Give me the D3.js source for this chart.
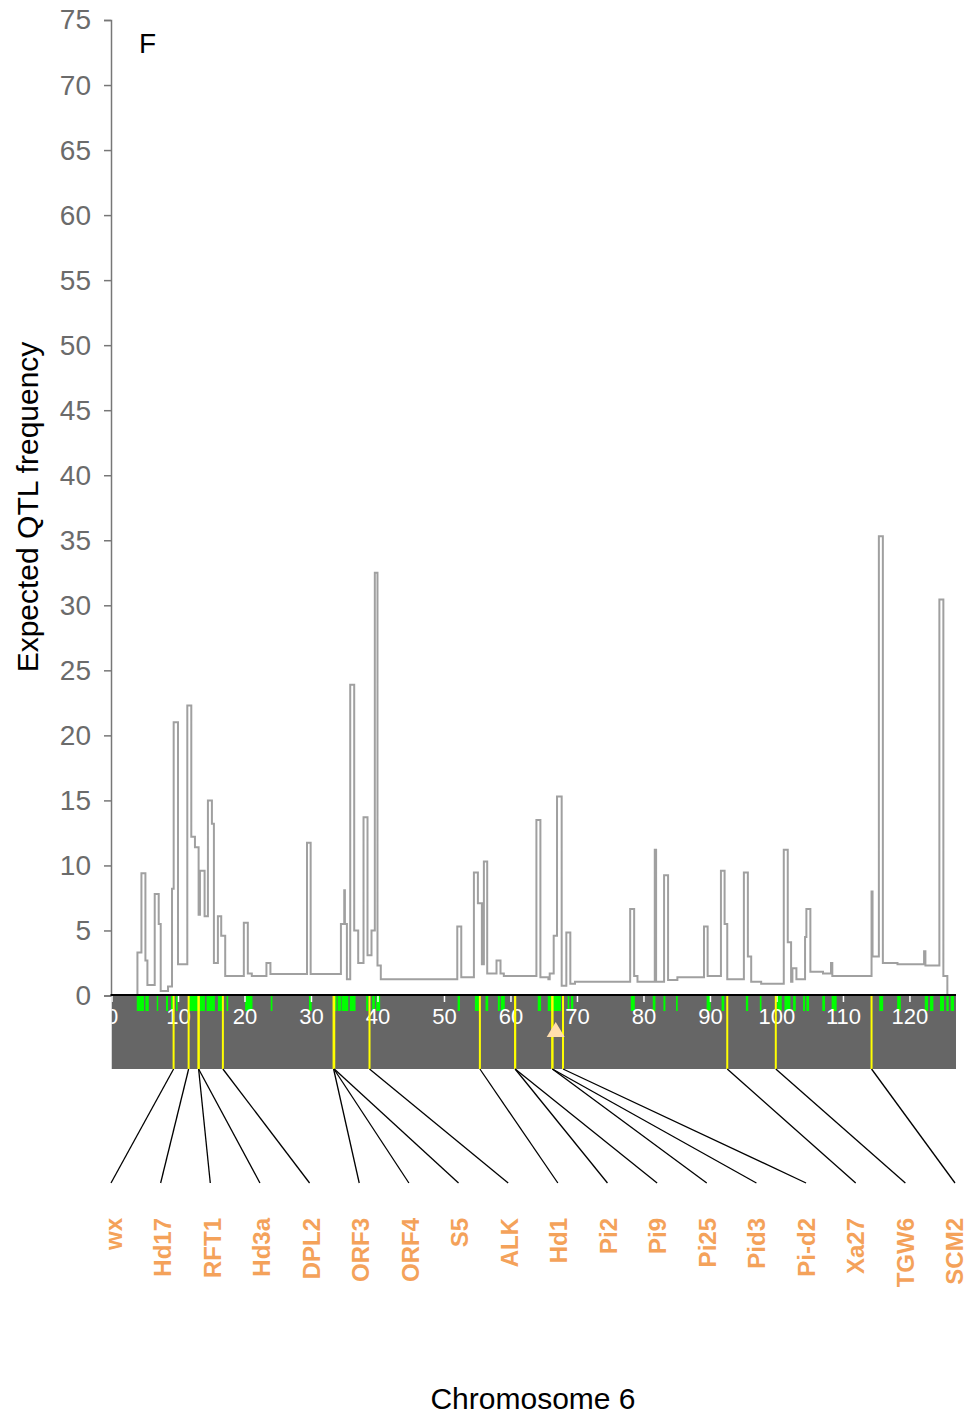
<!DOCTYPE html>
<html>
<head>
<meta charset="utf-8">
<script src="https://cdn.jsdelivr.net/npm/d3@7"></script>
<style>
  body { margin: 0; background: #fff; }
  svg { display: block; font-family: "Liberation Sans", Arial, sans-serif; }
</style>
</head>
<body>
<svg id="chart" width="968" height="1415"></svg>
<script>
// step profile: [cM, expected QTL frequency], drawn as step-after
const qtlPos = [3.9, 3.9, 4.5, 5.1, 5.4, 6.5, 7.1, 7.4, 8.5, 9.1, 9.35, 10.0, 11.4, 12.0, 12.55, 13.1, 13.3, 14.0, 14.5, 15.1, 15.4, 16.0, 16.5, 17.1, 19.9, 20.5, 21.1, 23.3, 23.9, 29.4, 29.95, 34.5, 35.0, 35.1, 35.4, 35.9, 36.5, 37.1, 37.9, 38.5, 39.1, 39.6, 40.0, 40.5, 52.0, 52.6, 54.5, 55.1, 55.7, 56.0, 56.5, 57.9, 58.5, 59.0, 63.9, 64.5, 65.7, 65.9, 66.5, 67.0, 67.7, 68.4, 69.0, 69.7, 78.0, 78.6, 79.1, 81.7, 81.9, 83.1, 83.7, 85.1, 89.1, 89.65, 91.65, 92.2, 92.6, 95.1, 95.7, 96.2, 97.7, 101.1, 101.7, 102.2, 102.4, 103.0, 104.3, 104.5, 105.1, 107.0, 108.2, 108.4, 114.3, 114.45, 115.4, 116.0, 118.2, 122.2, 122.4, 124.5, 125.1, 125.7];
const qtlFreq = [0, 3.3, 9.4, 2.7, 0.8, 7.8, 5.5, 0.35, 0.7, 8.2, 21.0, 2.4, 22.3, 12.2, 11.4, 6.2, 9.6, 6.1, 15.0, 13.2, 2.5, 6.1, 4.6, 1.5, 5.6, 1.7, 1.5, 2.5, 1.65, 11.75, 1.65, 5.5, 8.1, 5.5, 1.25, 23.9, 5.0, 2.5, 13.7, 3.1, 5.0, 32.5, 2.3, 1.25, 5.3, 1.4, 9.45, 7.1, 2.4, 10.3, 1.7, 2.7, 1.7, 1.5, 13.5, 1.4, 1.25, 1.7, 4.6, 15.3, 0.75, 4.85, 0.9, 1.05, 6.65, 1.5, 1.05, 11.2, 1.05, 9.25, 1.2, 1.4, 5.3, 1.5, 9.6, 5.5, 1.25, 9.45, 3.0, 1.05, 0.9, 11.2, 4.1, 1.05, 2.1, 1.25, 4.5, 6.65, 1.83, 1.7, 2.5, 1.5, 8.0, 3.0, 35.3, 2.5, 2.4, 3.4, 2.3, 30.45, 1.5, 0];

// marker intervals on the chromosome (cM)
const markerStart = [3.8, 5.1, 6.8, 8.2, 8.95, 9.7, 11.55, 14.3, 16.0, 17.3, 20.1, 23.95, 29.7, 33.35, 34.0, 34.6, 35.85, 38.3, 39.2, 39.8, 52.05, 54.65, 56.25, 58.1, 58.55, 64.1, 65.6, 66.4, 68.6, 69.1, 78.1, 81.4, 83.0, 84.9, 89.5, 91.75, 95.4, 97.5, 100.1, 101.2, 102.5, 104.0, 104.5, 106.9, 108.3, 115.45, 118.15, 122.3, 123.1, 124.6, 125.55, 126.2];
const markerEnd   = [4.9, 5.6, 7.0, 8.5, 9.3, 9.95, 14.05, 15.55, 16.8, 17.55, 21.2, 24.2, 30.1, 33.85, 34.5, 35.6, 36.7, 38.6, 39.6, 40.4, 52.4, 55.25, 56.65, 58.4, 59.15, 64.6, 66.1, 67.6, 68.85, 69.45, 78.7, 81.8, 83.3, 85.15, 90.1, 92.15, 95.75, 97.75, 100.8, 102.1, 102.9, 104.3, 104.9, 107.3, 109.05, 116.05, 118.7, 122.8, 123.6, 125.2, 125.9, 126.7];

const genes = ['wx', 'Hd17', 'RFT1', 'Hd3a', 'DPL2', 'ORF3', 'ORF4', 'S5', 'ALK', 'Hd1', 'Pi2', 'Pi9', 'Pi25', 'Pid3', 'Pi-d2', 'Xa27', 'TGW6', 'SCM2'];
const genePos = [9.34, 11.6, 13.1, 13.1, 16.75, 33.4, 33.45, 33.5, 38.8, 55.4, 60.7, 60.7, 66.3, 66.3, 67.9, 92.6, 99.9, 114.3];

const chromLength = 127;
const centromere = 66.8;
const yTicks = d3.range(0, 76, 5);
const xTicks = d3.range(0, 121, 10);

const svg = d3.select('#chart');
const barTop = 995, barBottom = 1069, labelLineY = 1183, labelTop = 1218;

const x = d3.scaleLinear().domain([0, chromLength]).range([111.5, 956]);
const y = d3.scaleLinear().domain([0, 75]).range([995.5, 20]);
const lineEndX = d3.scalePoint().domain(genes).range([111, 955]);
const labelX = d3.scalePoint().domain(genes).range([122, 963]);

// y axis
const yAxis = d3.axisLeft(y).tickValues(yTicks).tickSize(7).tickPadding(13);
const gy = svg.append('g').attr('transform', 'translate(111,0)').call(yAxis);
gy.select('.domain').attr('stroke', '#777').attr('stroke-width', 1.5);
gy.selectAll('.tick line').attr('stroke', '#777').attr('stroke-width', 1.5);
gy.selectAll('.tick text').attr('fill', '#6b6b6b').attr('font-size', 28)
  .attr('font-family', '"Liberation Sans", Arial, sans-serif');

svg.append('text')
  .attr('transform', 'translate(38,507) rotate(-90)')
  .attr('text-anchor', 'middle')
  .attr('font-size', 30)
  .text('Expected QTL frequency');

svg.append('text').attr('x', 139).attr('y', 53).attr('font-size', 28).text('F');

// step line
const pts = qtlPos.map((p, i) => [p, qtlFreq[i]]);
svg.append('path')
  .attr('d', d3.line().x(d => x(d[0])).y(d => y(d[1])).curve(d3.curveStepAfter)(pts))
  .attr('fill', 'none')
  .attr('stroke', '#a0a0a0')
  .attr('stroke-width', 2);

// chromosome bar
svg.append('defs').append('clipPath').attr('id', 'barclip')
  .append('rect')
  .attr('x', x(0)).attr('y', barTop)
  .attr('width', x(chromLength) - x(0)).attr('height', barBottom - barTop);

const bar = svg.append('g').attr('clip-path', 'url(#barclip)');
bar.append('rect')
  .attr('x', x(0)).attr('y', barTop)
  .attr('width', x(chromLength) - x(0)).attr('height', barBottom - barTop)
  .attr('fill', '#666666');

bar.selectAll('rect.marker')
  .data(markerStart)
  .enter()
  .append('rect')
  .attr('class', 'marker')
  .attr('x', d => x(d))
  .attr('y', barTop + 1)
  .attr('width', (d, i) => Math.max(1.5, x(markerEnd[i]) - x(d)))
  .attr('height', 15)
  .attr('fill', '#00ff00');

const xAxis = d3.axisBottom(x).tickValues(xTicks).tickSize(7).tickPadding(6);
const gx = bar.append('g').attr('transform', 'translate(0,' + barTop + ')').call(xAxis);
gx.select('.domain').remove();
gx.selectAll('.tick line').attr('stroke', '#fff').attr('stroke-width', 1.5);
gx.selectAll('.tick text').attr('fill', '#fff').attr('font-size', 22)
  .attr('font-family', '"Liberation Sans", Arial, sans-serif');

bar.selectAll('line.gene')
  .data(genePos)
  .enter()
  .append('line')
  .attr('class', 'gene')
  .attr('x1', d => x(d)).attr('x2', d => x(d))
  .attr('y1', barTop).attr('y2', barBottom)
  .attr('stroke', '#ffff00')
  .attr('stroke-width', 2);

// centromere
const cx = x(centromere);
bar.append('path')
  .attr('d', 'M' + cx + ',' + 1022 + 'L' + (cx + 9) + ',' + 1037 + 'L' + (cx - 9) + ',' + 1037 + 'Z')
  .attr('fill', '#ffdead');

svg.append('line')
  .attr('x1', x(0) - 1).attr('x2', x(chromLength))
  .attr('y1', barTop).attr('y2', barTop)
  .attr('stroke', '#000').attr('stroke-width', 2);

// connectors and gene labels
svg.selectAll('line.conn')
  .data(genes)
  .enter()
  .append('line')
  .attr('class', 'conn')
  .attr('x1', (d, i) => x(genePos[i]))
  .attr('y1', barBottom)
  .attr('x2', d => lineEndX(d))
  .attr('y2', labelLineY)
  .attr('stroke', '#000')
  .attr('stroke-width', 1.3);

svg.selectAll('text.gene')
  .data(genes)
  .enter()
  .append('text')
  .attr('class', 'gene')
  .attr('transform', d => 'translate(' + labelX(d) + ',' + labelTop + ') rotate(-90)')
  .attr('text-anchor', 'end')
  .attr('font-size', 24)
  .attr('font-weight', 'bold')
  .attr('fill', '#f4a25a')
  .text(d => d);

svg.append('text')
  .attr('x', 533).attr('y', 1409)
  .attr('text-anchor', 'middle')
  .attr('font-size', 30)
  .text('Chromosome 6');
</script>
</body>
</html>
